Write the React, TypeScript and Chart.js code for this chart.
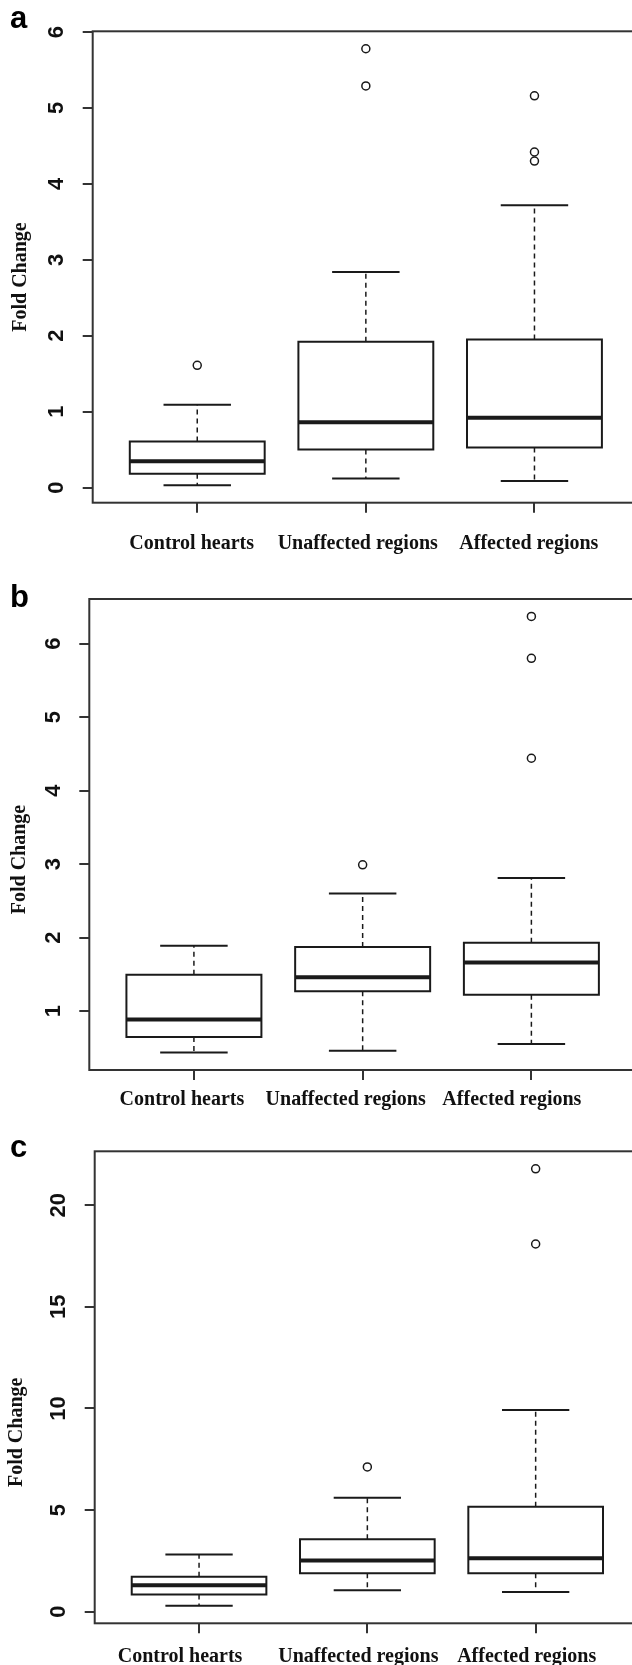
import React, { useEffect, useRef } from 'react';
import { Chart, registerables } from 'chart.js';

Chart.register(...registerables);

const CATEGORIES = ['Control hearts', 'Unaffected regions', 'Affected regions'];
const Y_TITLE = 'Fold Change';

// Panel a
const A_LOWER = [0.03, 0.12, 0.085];
const A_Q1 = [0.18, 0.5, 0.527];
const A_MEDIAN = [0.345, 0.86, 0.92];
const A_Q3 = [0.607, 1.92, 1.95];
const A_UPPER = [1.09, 2.84, 3.72];
const A_OUTLIERS = [[1.61], [5.29, 5.78], [4.3, 4.42, 5.16]];
const A_STEP = 1;

// Panel b
const B_LOWER = [0.435, 0.46, 0.55];
const B_Q1 = [0.645, 1.27, 1.22];
const B_MEDIAN = [0.885, 1.46, 1.66];
const B_Q3 = [1.493, 1.87, 1.93];
const B_UPPER = [1.888, 2.6, 2.81];
const B_OUTLIERS = [[], [2.99], [4.44, 5.8, 6.37]];
const B_STEP = 1;

// Panel c
const C_LOWER = [0.29, 1.05, 0.97];
const C_Q1 = [0.85, 1.89, 1.89];
const C_MEDIAN = [1.3, 2.52, 2.63];
const C_Q3 = [1.72, 3.57, 5.16];
const C_UPPER = [2.82, 5.61, 9.92];
const C_OUTLIERS = [[], [7.12], [18.09, 21.79]];
const C_STEP = 5;

const SERIF = '"Liberation Serif", "Times New Roman", serif';
const SANS = '"Liberation Sans", Arial, sans-serif';
const INK = '#1a1a1a';

const framePlugin = {
  id: 'rFrame',
  afterDatasetsDraw(chart: any) {
    const { ctx, chartArea: a } = chart;
    ctx.save();
    ctx.strokeStyle = '#333';
    ctx.lineWidth = 2;
    ctx.strokeRect(a.left, a.top, a.right - a.left, a.bottom - a.top);
    ctx.restore();
  },
};

function buildDatasets(lower: number[], q1: number[], med: number[], q3: number[], upper: number[], outliers: number[][]) {
  const HALF_BOX = 0.4;
  const HALF_STAPLE = 0.2;
  const boxPts: any[] = [];
  const medPts: any[] = [];
  const whiskPts: any[] = [];
  const staplePts: any[] = [];
  const outPts: any[] = [];
  CATEGORIES.forEach((_, i) => {
    const x = i + 1;
    boxPts.push(
      { x: x - HALF_BOX, y: q1[i] },
      { x: x + HALF_BOX, y: q1[i] },
      { x: x + HALF_BOX, y: q3[i] },
      { x: x - HALF_BOX, y: q3[i] },
      { x: x - HALF_BOX, y: q1[i] },
      { x, y: null }
    );
    medPts.push({ x: x - HALF_BOX, y: med[i] }, { x: x + HALF_BOX, y: med[i] }, { x, y: null });
    whiskPts.push(
      { x, y: q3[i] },
      { x, y: upper[i] },
      { x, y: null },
      { x, y: q1[i] },
      { x, y: lower[i] },
      { x, y: null }
    );
    staplePts.push(
      { x: x - HALF_STAPLE, y: upper[i] },
      { x: x + HALF_STAPLE, y: upper[i] },
      { x, y: null },
      { x: x - HALF_STAPLE, y: lower[i] },
      { x: x + HALF_STAPLE, y: lower[i] },
      { x, y: null }
    );
    outliers[i].forEach((v) => outPts.push({ x, y: v }));
  });
  const line = {
    showLine: true,
    pointRadius: 0,
    pointHoverRadius: 0,
    fill: false,
    tension: 0,
    spanGaps: false,
    borderColor: INK,
  };
  return [
    { ...line, label: 'median', data: medPts, borderWidth: 4, borderCapStyle: 'butt' },
    { ...line, label: 'box', data: boxPts, borderWidth: 2, borderCapStyle: 'square', borderJoinStyle: 'miter' },
    { ...line, label: 'whisker', data: whiskPts, borderWidth: 1.5, borderDash: [5, 4], borderCapStyle: 'butt' },
    { ...line, label: 'staple', data: staplePts, borderWidth: 2, borderCapStyle: 'butt' },
    {
      label: 'outliers',
      data: outPts,
      showLine: false,
      pointStyle: 'circle',
      pointRadius: 4,
      pointHoverRadius: 4,
      pointBorderWidth: 1.5,
      pointBackgroundColor: '#ffffff',
      pointBorderColor: INK,
    },
  ];
}

type Layout = {
  top: number;
  w: number;
  h: number;
  plotTop: number;
  plotLeft: number;
  xAxisH: number;
  yTickPad: number;
  titlePad: number;
  titleSpaces: number;
  xLabelPad: number;
  xLabelOffset: number;
  // per-label nudges, in spaces: negative = trailing spaces (moves left), positive = leading (moves right)
  xLabelNudge: number[];
};

type Stats = {
  lower: number[];
  q1: number[];
  med: number[];
  q3: number[];
  upper: number[];
  outliers: number[][];
  step: number;
};

function nudged(text: string, n: number) {
  if (n > 0) return ' '.repeat(n) + text;
  if (n < 0) return text + ' '.repeat(-n);
  return text;
}

function BoxPanel({ stats, layout }: { stats: Stats; layout: Layout }) {
  const ref = useRef<HTMLCanvasElement>(null);
  useEffect(() => {
    const all = [...stats.lower, ...stats.upper, ...stats.outliers.flat()];
    const lo = Math.min(...all);
    const hi = Math.max(...all);
    const ext = (hi - lo) * 0.04;
    const n = CATEGORIES.length;
    const xExt = n * 0.04;
    const chart = new Chart(ref.current as HTMLCanvasElement, {
      type: 'scatter',
      data: {
        datasets: buildDatasets(stats.lower, stats.q1, stats.med, stats.q3, stats.upper, stats.outliers) as any,
      },
      options: {
        animation: false,
        responsive: false,
        devicePixelRatio: 1,
        events: [],
        layout: { autoPadding: false, padding: { top: layout.plotTop, left: 0, right: 0, bottom: 0 } },
        plugins: { legend: { display: false }, tooltip: { enabled: false } },
        scales: {
          x: {
            type: 'linear',
            position: 'bottom',
            min: 0.5 - xExt,
            max: n + 0.5 + xExt,
            afterBuildTicks: (scale: any) => {
              scale.ticks = CATEGORIES.map((_, i) => ({ value: i + 1 }));
            },
            afterFit: (scale: any) => {
              scale.height = layout.xAxisH;
              scale.paddingLeft = 0;
              scale.paddingRight = 0;
            },
            border: { display: false },
            grid: { display: true, drawOnChartArea: false, drawTicks: true, tickLength: 10, lineWidth: 2, color: '#333' },
            ticks: {
              autoSkip: false,
              maxRotation: 0,
              minRotation: 0,
              padding: layout.xLabelPad,
              labelOffset: layout.xLabelOffset,
              color: '#111',
              font: { family: SERIF, size: 20, weight: 'bold' },
              callback: (v: any) => {
                const i = Math.round(Number(v)) - 1;
                return CATEGORIES[i] !== undefined ? nudged(CATEGORIES[i], layout.xLabelNudge[i] || 0) : '';
              },
            },
          },
          y: {
            type: 'linear',
            position: 'left',
            min: lo - ext,
            max: hi + ext,
            afterFit: (scale: any) => {
              scale.width = layout.plotLeft;
              scale.paddingTop = 0;
              scale.paddingBottom = 0;
            },
            border: { display: false },
            grid: { display: true, drawOnChartArea: false, drawTicks: true, tickLength: 10, lineWidth: 2, color: '#333' },
            ticks: {
              stepSize: stats.step,
              includeBounds: false,
              minRotation: 90,
              maxRotation: 90,
              crossAlign: 'center',
              padding: layout.yTickPad,
              color: '#111',
              font: { family: SANS, size: 22, weight: 'bold' },
              callback: (v: any) => String(v),
            },
            title: {
              display: true,
              text: Y_TITLE + ' '.repeat(layout.titleSpaces),
              color: '#111',
              font: { family: SERIF, size: 20, weight: 'bold' },
              padding: { top: layout.titlePad, bottom: 0 },
            },
          },
        },
      } as any,
      plugins: [framePlugin],
    });
    return () => chart.destroy();
  }, []);
  return (
    <div style={{ position: 'absolute', left: 0, top: layout.top, width: layout.w, height: layout.h }}>
      <canvas ref={ref} width={layout.w} height={layout.h} style={{ display: 'block', width: layout.w, height: layout.h }} />
    </div>
  );
}

const PANELS: { letter: string; letterTop: number; stats: Stats; layout: Layout }[] = [
  {
    letter: 'a',
    letterTop: 1.5,
    stats: { lower: A_LOWER, q1: A_Q1, med: A_MEDIAN, q3: A_Q3, upper: A_UPPER, outliers: A_OUTLIERS, step: A_STEP },
    layout: {
      top: 0, w: 639, h: 560, plotTop: 31.3, plotLeft: 92.7, xAxisH: 57.3, yTickPad: 19.3,
      titlePad: 9, titleSpaces: 4, xLabelPad: 18.9, xLabelOffset: -5.6, xLabelNudge: [0, -1, 0],
    },
  },
  {
    letter: 'b',
    letterTop: 581,
    stats: { lower: B_LOWER, q1: B_Q1, med: B_MEDIAN, q3: B_Q3, upper: B_UPPER, outliers: B_OUTLIERS, step: B_STEP },
    layout: {
      top: 560, w: 636, h: 550, plotTop: 39, plotLeft: 89.3, xAxisH: 40, yTickPad: 19.5,
      titlePad: 8, titleSpaces: 10, xLabelPad: 8.3, xLabelOffset: -17, xLabelNudge: [2, 0, -1],
    },
  },
  {
    letter: 'c',
    letterTop: 1131,
    stats: { lower: C_LOWER, q1: C_Q1, med: C_MEDIAN, q3: C_Q3, upper: C_UPPER, outliers: C_OUTLIERS, step: C_STEP },
    layout: {
      top: 1110, w: 640, h: 555, plotTop: 41.3, plotLeft: 94.7, xAxisH: 41.7, yTickPad: 13.5,
      titlePad: 5, titleSpaces: 18, xLabelPad: 11.2, xLabelOffset: -9, xLabelNudge: [-4, 0, 0],
    },
  },
];

export default function App() {
  return (
    <div
      style={{
        position: 'absolute',
        left: 0,
        top: 0,
        width: 632,
        height: 1665,
        overflow: 'hidden',
        background: '#ffffff',
      }}
    >
      {PANELS.map((p) => (
        <React.Fragment key={p.letter}>
          <BoxPanel stats={p.stats} layout={p.layout} />
          <div
            style={{
              position: 'absolute',
              left: 10,
              top: p.letterTop,
              fontFamily: SANS,
              fontWeight: 'bold',
              fontSize: 31,
              lineHeight: '31px',
              color: '#000',
            }}
          >
            {p.letter}
          </div>
        </React.Fragment>
      ))}
    </div>
  );
}
